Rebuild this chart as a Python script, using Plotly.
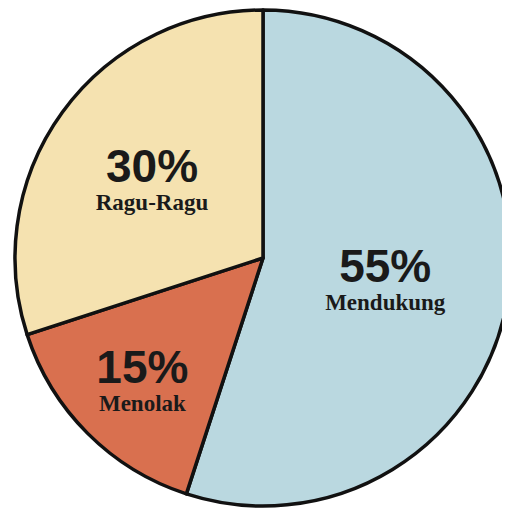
import plotly.graph_objects as go

labels = ["Mendukung", "Menolak", "Ragu-Ragu"]
values = [55, 15, 30]
colors = ["#BAD8E0", "#D9704F", "#F5E2B0"]
line_sizes = [22, 22, 21]  # base size controls spacing between the two text lines

texttemplate = ("<span style='font-family:Liberation Sans, Arial;font-size:46px;font-weight:bold'>%{percent:.0%}</span>"
                "<br><span style='font-family:Liberation Serif, Times New Roman;font-size:23px;font-weight:bold'>%{label}</span>")

fig = go.Figure(go.Pie(
    labels=labels,
    values=values,
    sort=False,
    direction="clockwise",
    rotation=0,
    marker=dict(colors=colors, line=dict(color="#111111", width=3.5)),
    texttemplate=texttemplate,
    textposition="inside",
    insidetextorientation="horizontal",
    textfont=dict(size=line_sizes, color="#1a1a1a", family="Liberation Sans"),
    hoverinfo="label+percent",
))

fig.update_layout(
    width=510, height=508,
    margin=dict(l=7, r=7, t=2, b=10),
    showlegend=False,
    paper_bgcolor="white",
    plot_bgcolor="white",
)

fig.write_html("out.html")
